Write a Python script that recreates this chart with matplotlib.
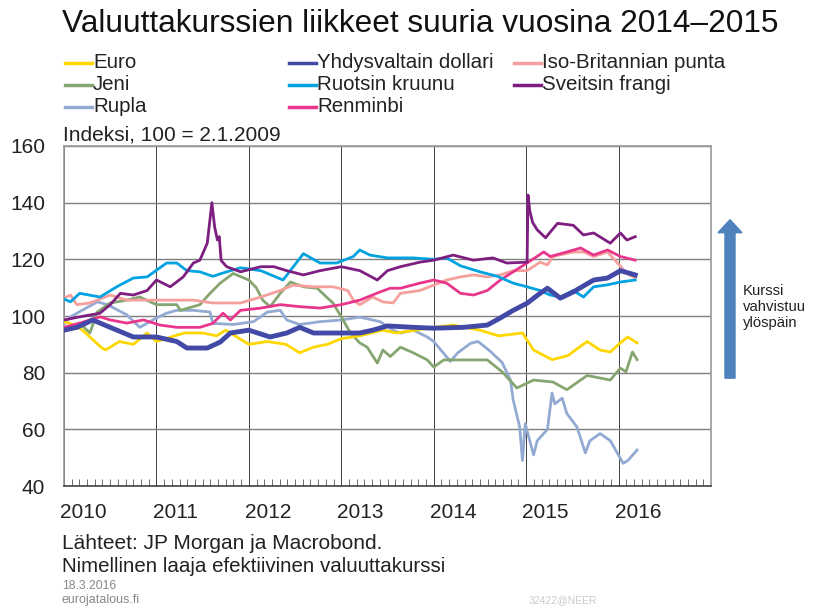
import numpy as np
import matplotlib
matplotlib.use("Agg")
import matplotlib.pyplot as plt
import matplotlib.ticker as mticker
from matplotlib.patches import FancyArrow
from matplotlib.lines import Line2D

plt.rcParams["font.family"] = ["Liberation Sans", "DejaVu Sans"]

# ── data (decimal years) ──────────────────────────────────────────────
euro_x = [2010.0, 2010.1, 2010.2, 2010.3, 2010.4, 2010.45, 2010.6, 2010.75, 2010.9, 2011.0,
          2011.1, 2011.3, 2011.5, 2011.65, 2011.75, 2011.9, 2012.0, 2012.2, 2012.4, 2012.55,
          2012.7, 2012.85, 2013.0, 2013.2, 2013.45, 2013.6, 2013.8, 2014.0, 2014.21, 2014.5,
          2014.7, 2014.96, 2015.08, 2015.28, 2015.45, 2015.66, 2015.8, 2015.91, 2016.0, 2016.1, 2016.2]
euro_y = [98, 97, 95, 92, 89, 88, 91, 90, 94, 91,
          92, 94, 94, 93, 95, 92, 90, 91, 90, 87,
          89, 90, 92, 93, 95, 94, 95, 96, 96.8, 95,
          93, 94, 88, 84.6, 86, 91, 88, 87.3, 90, 92.6, 90.5]

usd_x = [2010.0, 2010.14, 2010.31, 2010.5, 2010.75, 2011.0, 2011.22, 2011.33, 2011.55, 2011.69,
         2011.8, 2012.0, 2012.23, 2012.41, 2012.55, 2012.7, 2012.91, 2013.07, 2013.2, 2013.34,
         2013.5, 2013.78, 2014.0, 2014.32, 2014.58, 2014.72, 2014.86, 2015.01, 2015.15, 2015.23,
         2015.37, 2015.51, 2015.73, 2015.88, 2016.02, 2016.18]
usd_y = [95, 96, 98.6, 96, 92.6, 92.6, 91, 88.7, 88.7, 90.8,
         94, 95, 92.6, 94, 96, 94, 94, 94, 94, 95,
         96.5, 96, 95.7, 96, 96.8, 99.3, 102, 104.5, 108, 109.8,
         106.3, 108.5, 112.7, 113.4, 116, 114.5]

gbp_x = [2010.0, 2010.07, 2010.14, 2010.28, 2010.5, 2010.68, 2011.0, 2011.22, 2011.4, 2011.61,
         2011.76, 2011.91, 2012.13, 2012.34, 2012.48, 2012.7, 2012.91, 2013.07, 2013.13, 2013.2,
         2013.34, 2013.45, 2013.56, 2013.64, 2013.85, 2014.0, 2014.14, 2014.29, 2014.43, 2014.58,
         2014.72, 2014.86, 2015.01, 2015.15, 2015.23, 2015.29, 2015.51, 2015.62, 2015.73, 2015.88,
         2015.98, 2016.09, 2016.18]
gbp_y = [106.3, 107.4, 104, 104.6, 107.4, 105.6, 105.6, 105.6, 105.6, 104.6,
         104.6, 104.6, 106.7, 109, 110.9, 110.3, 110.3, 109, 105.6, 104,
         106.7, 105, 104.6, 108, 109, 110.9, 112.7, 113.8, 114.5, 113.8,
         114.5, 116, 116, 119, 118, 121, 122.6, 122.6, 121, 122.6,
         119, 115, 113.4]

jpy_x = [2010.0, 2010.17, 2010.28, 2010.36, 2010.5, 2010.68, 2010.82, 2011.0, 2011.22, 2011.26,
         2011.47, 2011.58, 2011.69, 2011.83, 2012.0, 2012.08, 2012.15, 2012.23, 2012.34, 2012.45,
         2012.59, 2012.74, 2012.84, 2012.91, 2013.0, 2013.1, 2013.2, 2013.28, 2013.39, 2013.45,
         2013.53, 2013.64, 2013.78, 2013.93, 2014.0, 2014.11, 2014.58, 2014.74, 2014.9, 2015.08,
         2015.29, 2015.44, 2015.66, 2015.91, 2016.02, 2016.08, 2016.15, 2016.2]
jpy_y = [95, 97.5, 94, 101.4, 104.6, 105.6, 106.7, 104, 104, 102,
         104, 108, 111.6, 115, 112.7, 110, 105.6, 103.3, 108, 112,
         110.3, 109.8, 106.7, 104.6, 99.7, 94, 90.5, 89, 83.4, 88,
         85.7, 89, 87, 84.5, 82, 84.5, 84.5, 80.3, 74.6, 77.4,
         76.7, 74, 79, 77.4, 81.6, 80.3, 87.3, 84.6]

sek_x = [2010.0, 2010.07, 2010.17, 2010.39, 2010.57, 2010.75, 2010.9, 2011.11, 2011.22, 2011.33,
         2011.47, 2011.61, 2011.76, 2011.91, 2012.13, 2012.37, 2012.59, 2012.77, 2012.95, 2013.13,
         2013.2, 2013.31, 2013.5, 2013.78, 2014.0, 2014.14, 2014.29, 2014.5, 2014.69, 2014.86,
         2015.01, 2015.15, 2015.26, 2015.37, 2015.51, 2015.62, 2015.73, 2015.88, 2016.02, 2016.18]
sek_y = [106, 105, 108, 106.7, 110.3, 113.4, 113.8, 118.7, 118.7, 116,
         115.6, 114, 115.6, 117, 116, 112.7, 122, 118.7, 118.7, 121,
         123.3, 121.5, 120.5, 120.5, 120, 120.5, 117.7, 115.6, 114, 111.6,
         110.3, 109, 107.4, 106.7, 109, 106.7, 110.3, 111, 112, 112.7]

chf_x = [2010.0, 2010.17, 2010.39, 2010.5, 2010.61, 2010.75, 2010.9, 2011.0, 2011.15, 2011.29,
         2011.4, 2011.47, 2011.55, 2011.6, 2011.63, 2011.66, 2011.68, 2011.7, 2011.76, 2011.91,
         2012.13, 2012.27, 2012.41, 2012.59, 2012.77, 2013.0, 2013.2, 2013.39, 2013.5, 2013.64,
         2013.85, 2014.0, 2014.21, 2014.43, 2014.64, 2014.79, 2015.01, 2015.02, 2015.04, 2015.07,
         2015.12, 2015.21, 2015.26, 2015.34, 2015.51, 2015.62, 2015.73, 2015.91, 2016.02, 2016.09,
         2016.18]
chf_y = [98.6, 99.7, 101, 104, 108, 107.4, 109, 112.7, 110.3, 113.8,
         118.7, 119.7, 125.7, 140, 131.4, 126.8, 128, 119.6, 117.4, 115.6,
         117.4, 117.4, 116, 114.5, 116, 117.4, 116, 112.7, 116, 117.4,
         119, 119.7, 121.5, 119.7, 120.5, 118.7, 119, 142.7, 137, 133,
         130.4, 127.6, 129.6, 132.7, 132, 128.6, 129.3, 125.7, 129.3, 126.8,
         128]

rub_x = [2010.0, 2010.07, 2010.36, 2010.47, 2010.68, 2010.82, 2011.0, 2011.11, 2011.22, 2011.4,
         2011.58, 2011.61, 2011.83, 2012.05, 2012.2, 2012.34, 2012.41, 2012.55, 2012.77, 2013.0,
         2013.2, 2013.42, 2013.56, 2013.64, 2013.78, 2013.93, 2014.0, 2014.18, 2014.26, 2014.4,
         2014.48, 2014.61, 2014.74, 2014.83, 2014.86, 2014.93, 2014.96, 2014.99, 2015.08, 2015.12,
         2015.23, 2015.28, 2015.31, 2015.39, 2015.44, 2015.55, 2015.64, 2015.69, 2015.8, 2015.91,
         2015.98, 2016.05, 2016.1, 2016.2]
rub_y = [97, 99.7, 105, 104, 100.4, 96, 99.3, 101, 102, 102,
         101.4, 97.4, 97, 98, 101.4, 102, 98.6, 97, 98, 98.6,
         99.6, 98, 95, 94, 95, 92.6, 91, 84, 87, 90.4,
         91, 87.6, 83.6, 77.4, 70.4, 60.8, 49, 62, 51, 56,
         60, 72.8, 69, 71, 65.6, 60.8, 51.7, 56, 58.5, 56,
         52, 48, 49, 52.7]

cny_x = [2010.0, 2010.17, 2010.39, 2010.5, 2010.68, 2010.86, 2011.04, 2011.22, 2011.47, 2011.61,
         2011.72, 2011.8, 2011.91, 2012.13, 2012.34, 2012.55, 2012.77, 2013.0, 2013.2, 2013.42,
         2013.53, 2013.64, 2013.85, 2014.0, 2014.14, 2014.29, 2014.43, 2014.58, 2014.72, 2014.86,
         2015.01, 2015.19, 2015.26, 2015.44, 2015.59, 2015.73, 2015.88, 2016.02, 2016.18]
cny_y = [96, 97.5, 99.7, 98.6, 97.5, 98.6, 96.8, 96, 96, 97.4,
         101, 98.6, 102, 102.8, 104, 103.3, 102.8, 104, 105.6, 108.5,
         109.8, 109.8, 111.6, 112.7, 111.6, 108, 107.4, 109, 112.7, 115.6,
         118.7, 122.6, 121, 122.6, 124, 121.5, 123.3, 121, 119.7]

series = [
    ("Euro", euro_x, euro_y, "#FFD700", 2.0),
    ("Yhdysvaltain dollari", usd_x, usd_y, "#4349A6", 3.5),
    ("Iso-Britannian punta", gbp_x, gbp_y, "#F5A09C", 2.0),
    ("Jeni", jpy_x, jpy_y, "#86A671", 2.0),
    ("Ruotsin kruunu", sek_x, sek_y, "#00A2E0", 2.0),
    ("Sveitsin frangi", chf_x, chf_y, "#7D1E80", 2.0),
    ("Rupla", rub_x, rub_y, "#93AAD3", 2.0),
    ("Renminbi", cny_x, cny_y, "#E8368C", 2.0),
]
years = [2010, 2011, 2012, 2013, 2014, 2015, 2016]

fig = plt.figure(figsize=(8.14, 6.07), dpi=100)
ax = fig.add_axes([0.0786, 0.1993, 0.7949, 0.5602])

# draw order: rouble/yen behind, dollar on top
order = [6, 3, 2, 0, 7, 4, 5, 1]
for i in order:
    name, xs, ys, col, lw = series[i]
    ax.plot(xs, ys, color=col, lw=lw, zorder=3)

ax.set_xlim(2010, 2017)
ax.set_ylim(40, 160)
ax.yaxis.set_major_locator(mticker.MultipleLocator(20))
ax.set_xticks(years + [2017])
ax.set_xticklabels([])
ax.xaxis.set_minor_locator(mticker.MultipleLocator(1 / 12))
ax.tick_params(axis="x", which="major", length=0)
ax.tick_params(axis="x", which="minor", direction="in", length=5, width=0.6, color="#555555")
ax.tick_params(axis="y", length=0, pad=13.5, labelsize=15, colors="#222222")
ax.grid(axis="y", color="#7f7f7f", lw=1.0)
ax.grid(axis="x", which="major", color="#222222", lw=0.6)
for s in ax.spines.values():
    s.set_color("#999999")
    s.set_linewidth(1.2)
ax.spines["bottom"].set_color("#444444")

for y in years:
    ax.text(y + 0.21, -0.077, str(y), transform=ax.get_xaxis_transform(),
            ha="center", va="center", fontsize=15, color="#222222")

# legend, row by row in three columns
col_x = [65, 289, 514]
row_y = [63, 85, 107]
for k, (name, _, _, col, _) in enumerate(series):
    x0 = col_x[k % 3] / 814
    y0 = 1 - row_y[k // 3] / 607
    fig.add_artist(Line2D([x0, x0 + 27 / 814], [y0, y0], color=col, lw=2.5,
                          transform=fig.transFigure))
    fig.text(x0 + 28 / 814, y0, name, fontsize=14.8, va="center", ha="left", color="#222222")

fig.text(0.076, 0.961, "Valuuttakurssien liikkeet suuria vuosina 2014–2015",
         fontsize=22.8, va="center", ha="left", color="#111111")
fig.text(0.077, 0.778, "Indeksi, 100 = 2.1.2009", fontsize=15, va="center", color="#222222")

fig.text(0.076, 0.104, "Lähteet: JP Morgan ja Macrobond.", fontsize=15, va="center", color="#222222")
fig.text(0.076, 0.066, "Nimellinen laaja efektiivinen valuuttakurssi", fontsize=14.8, va="center",
         color="#222222")
fig.text(0.076, 0.035, "18.3.2016", fontsize=8.8, va="center", color="#888888")
fig.text(0.076, 0.012, "eurojatalous.fi", fontsize=9, va="center", color="#888888")
fig.text(0.649, 0.012, "32422@NEER", fontsize=7.5, va="center", color="#cccccc")

# arrow "Kurssi vahvistuu ylöspäin"
arr = FancyArrow(0.8968, 0.377, 0, 0.261, width=0.0123, head_width=0.0295, head_length=0.0214,
                 length_includes_head=True, color="#4F81BD", transform=fig.transFigure)
fig.patches.append(arr)
fig.text(0.913, 0.494, "Kurssi\nvahvistuu\nylöspäin", fontsize=10.7, va="center", ha="left",
         color="#222222", linespacing=1.15)

fig.savefig("out.png", dpi=100)
